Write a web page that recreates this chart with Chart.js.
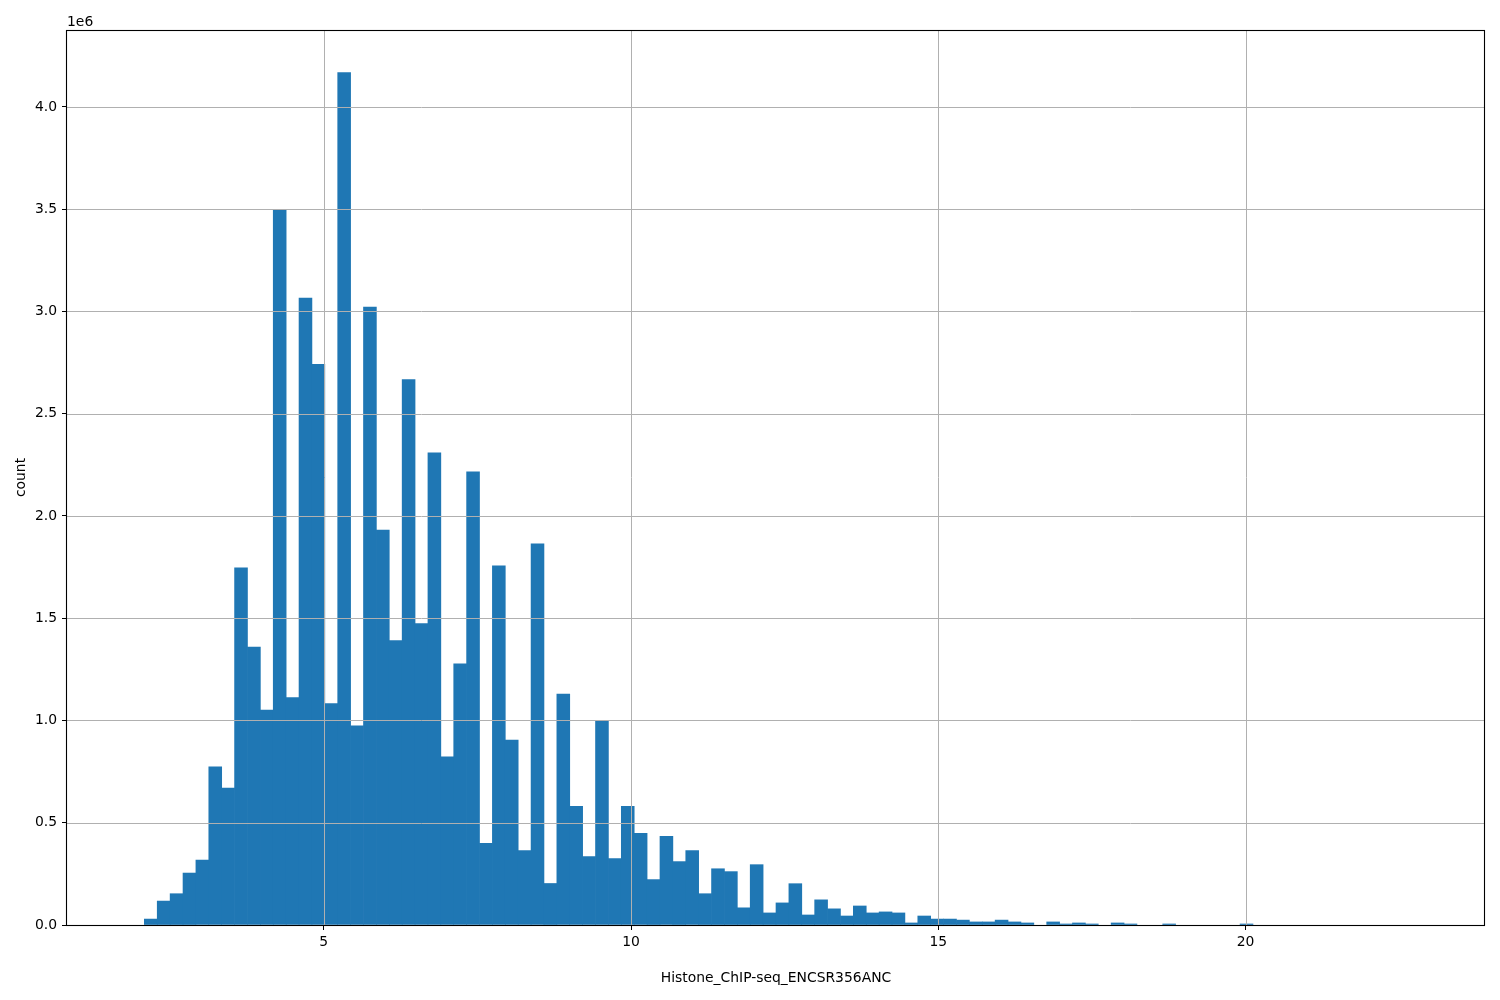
<!DOCTYPE html>
<html>
<head>
<meta charset="utf-8">
<script src="https://cdn.jsdelivr.net/npm/chart.js@4.4.1/dist/chart.umd.min.js"></script>
<style>
  html, body { margin: 0; padding: 0; background: #fff; }
  canvas { display: block; }
</style>
</head>
<body>
<canvas id="hist" width="1500" height="1000"></canvas>
<script>
// histogram: 100 equal bins over the data range
const histRange = [1.871, 22.847];
const counts = [
  0, 29000, 117000, 153000, 254000, 318000, 773000, 670000, 1746000, 1359000,
  1051000, 3497000, 1112000, 3065000, 2742000, 1083000, 4168000, 974000, 3021000, 1931000,
  1391000, 2667000, 1474000, 2309000, 822000, 1277000, 2216000, 399000, 1756000, 904000,
  364000, 1864000, 203000, 1129000, 580000, 335000, 997000, 325000, 580000, 448000,
  222000, 433000, 310000, 364000, 153000, 275000, 261000, 84000, 295000, 59000,
  108000, 202000, 49000, 123000, 79000, 44000, 93000, 59000, 64000, 59000,
  10000, 44000, 29000, 29000, 24000, 15000, 15000, 24000, 15000, 10000,
  0, 15000, 5000, 10000, 5000, 0, 10000, 5000, 0, 0,
  5000, 0, 0, 0, 0, 0, 5000, 0, 0, 0,
  0, 0, 0, 0, 0, 0, 0, 0, 0, 0
];
const xTicks = [5, 10, 15, 20];
const yTicks = [0, 0.5e6, 1.0e6, 1.5e6, 2.0e6, 2.5e6, 3.0e6, 3.5e6, 4.0e6];
const xLabel = 'Histone_ChIP-seq_ENCSR356ANC';
const yLabel = 'count';

const FONT = 'DejaVu Sans';
const binW = (histRange[1] - histRange[0]) / counts.length;
// empty bins -> null so no hairline gets drawn
const points = counts.map((c, i) => ({ x: histRange[0] + binW * (i + 0.5), y: c > 0 ? c : null }));
const span = histRange[1] - histRange[0];
const yMax = Math.max(...counts) * 1.05;

// matplotlib-ish: grid on top of bars, black frame, "1e6" offset text
const overlayPlugin = {
  id: 'overlay',
  afterDatasetsDraw(chart){
    const {ctx, chartArea: a, scales} = chart;
    ctx.save();
    ctx.strokeStyle = '#b0b0b0'; ctx.lineWidth = 1;
    xTicks.forEach(v => { const p = Math.round(scales.x.getPixelForValue(v)) + 0.5; ctx.beginPath(); ctx.moveTo(p, a.top); ctx.lineTo(p, a.bottom); ctx.stroke(); });
    yTicks.forEach(v => { const p = Math.round(scales.y.getPixelForValue(v)) + 0.5; ctx.beginPath(); ctx.moveTo(a.left, p); ctx.lineTo(a.right, p); ctx.stroke(); });
    ctx.strokeStyle = '#000'; ctx.lineWidth = 1.1;
    ctx.strokeRect(Math.round(a.left) - 0.5, Math.round(a.top) + 0.5, Math.round(a.right - a.left), Math.round(a.bottom - a.top));
    ctx.fillStyle = '#000'; ctx.font = '13.9px "' + FONT + '"';
    ctx.textAlign = 'left'; ctx.textBaseline = 'alphabetic';
    ctx.fillText('1e6', a.left, a.top - 4);
    ctx.restore();
  }
};

new Chart(document.getElementById('hist'), {
  type: 'bar',
  data: { datasets: [{ data: points, backgroundColor: '#1f77b4', borderWidth: 0, barPercentage: 1, categoryPercentage: 1 }] },
  options: {
    responsive: false, animation: false, devicePixelRatio: 1,
    layout: { padding: { left: 0, top: 30, right: 15, bottom: 0 } },
    plugins: { legend: { display: false }, tooltip: { enabled: false } },
    scales: {
      x: {
        type: 'linear', offset: false, min: histRange[0] - span * 0.05, max: histRange[1] + span * 0.05,
        afterBuildTicks: s => { s.ticks = xTicks.map(v => ({ value: v })); },
        afterFit: s => { s.height = 75; },
        ticks: { color: '#000', font: { family: FONT, size: 13.9 }, padding: 4, maxRotation: 0, autoSkip: false, callback: v => String(v) },
        grid: { display: true, offset: false, drawOnChartArea: false, drawTicks: true, tickLength: 5, tickColor: '#000', tickWidth: 1 },
        border: { display: false },
        title: { display: true, text: xLabel, color: '#000', font: { family: FONT, size: 13.9 }, padding: { top: 0, bottom: 13 } }
      },
      y: {
        type: 'linear', min: 0, max: yMax,
        afterBuildTicks: s => { s.ticks = yTicks.map(v => ({ value: v })); },
        afterFit: s => { s.width = 67; },
        ticks: { color: '#000', font: { family: FONT, size: 13.9 }, padding: 5, autoSkip: false, callback: v => (v / 1e6).toFixed(1) },
        grid: { display: true, drawOnChartArea: false, drawTicks: true, tickLength: 5, tickColor: '#000', tickWidth: 1 },
        border: { display: false },
        title: { display: true, text: yLabel, color: '#000', font: { family: FONT, size: 13.9 }, padding: { top: 13, bottom: 0 } }
      }
    }
  },
  plugins: [overlayPlugin]
});
</script>
</body>
</html>
